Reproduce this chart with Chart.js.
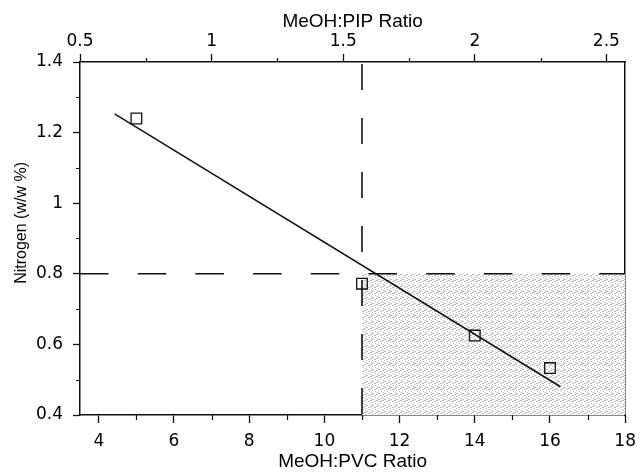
<!DOCTYPE html>
<html>
<head>
<meta charset="utf-8">
<title>Nitrogen vs MeOH ratio</title>
<script src="https://cdn.jsdelivr.net/npm/chart.js@4/dist/chart.umd.min.js"></script>
<style>
  html, body { margin: 0; padding: 0; background: #fff; }
  canvas { display: block; }
</style>
</head>
<body>
<canvas id="nitrogenChart" width="644" height="472"></canvas>
<script>
// measured samples
const pvcRatio = [5, 11, 14, 16];
const nitrogen = [1.24, 0.772, 0.625, 0.533];

// least-squares line, drawn between its two end points
const fitPvc = [4.42, 16.28];
const fitNitrogen = [1.253, 0.48];

// acceptance limits
const nitrogenLimit = 0.8;
const pvcLimit = 11;

// axes
const pvcRange = [3.5, 18];
const nitrogenRange = [0.4, 1.4];
const pvcPerPip = 7;
const pvcTicks = [4, 6, 8, 10, 12, 14, 16, 18];
const pvcMinor = [5, 7, 9, 11, 13, 15, 17];
const pipTicks = [0.5, 1, 1.5, 2, 2.5];
const pipMinor = [0.75, 1.25, 1.75, 2.25];
const nitrogenTicks = [0.4, 0.6, 0.8, 1, 1.2, 1.4];
const nitrogenMinor = [0.5, 0.7, 0.9, 1.1, 1.3];

const INK = "#111";
const tickFont = { family: "'DejaVu Sans'", size: 17 };
const titleFont = { family: "'Liberation Sans', Arial, sans-serif", size: 19 };

function stipple() {
  const c = document.createElement("canvas");
  c.width = 6;
  c.height = 6;
  const g = c.getContext("2d");
  g.fillStyle = "#fff";
  g.fillRect(0, 0, 6, 6);
  g.fillStyle = "#b9b9b9";
  [[0, 0], [3, 1], [1, 3], [4, 4], [2, 5], [5, 2], [5, 4], [0, 3], [3, 5]]
    .forEach(([x, y]) => g.fillRect(x, y, 1, 1));
  return g.createPattern(c, "repeat");
}

function fixedTicks(values) {
  return scale => { scale.ticks = values.map(v => ({ value: v })); };
}

// short ticks between the labelled ones
const minorTicks = {
  id: "minorTicks",
  afterDraw(chart) {
    const { ctx, chartArea: a, scales } = chart;
    ctx.save();
    ctx.strokeStyle = INK;
    ctx.lineWidth = 1.2;
    ctx.beginPath();
    pvcMinor.forEach(v => {
      const px = Math.round(scales.x.getPixelForValue(v)) + 0.5;
      ctx.moveTo(px, a.bottom);
      ctx.lineTo(px, a.bottom + 5);
    });
    pipMinor.forEach(v => {
      const px = Math.round(scales.x2.getPixelForValue(v)) + 0.5;
      ctx.moveTo(px, a.top);
      ctx.lineTo(px, a.top - 4);
    });
    nitrogenMinor.forEach(v => {
      const py = Math.round(scales.y.getPixelForValue(v)) + 0.5;
      ctx.moveTo(a.left, py);
      ctx.lineTo(a.left - 4, py);
    });
    ctx.stroke();
    ctx.restore();
  }
};

function axis(position, ticks, size) {
  return {
    type: "linear",
    position: position,
    border: { display: true, color: INK, width: 1.5 },
    grid: { drawOnChartArea: false, color: INK, tickLength: 8, tickWidth: 1.3 },
    ticks: {
      color: "#000",
      font: tickFont,
      padding: 8,
      autoSkip: false,
      maxRotation: 0,
      callback: v => String(v)
    },
    afterBuildTicks: fixedTicks(ticks),
    afterFit: scale => {
      if (scale.isHorizontal()) scale.height = size;
      else scale.width = size;
    }
  };
}

const xAxis = axis("bottom", pvcTicks, 57);
xAxis.min = pvcRange[0];
xAxis.max = pvcRange[1];
xAxis.title = { display: true, text: "MeOH:PVC Ratio", color: "#000", font: titleFont, padding: { top: 0, bottom: -1 } };

const topAxis = axis("top", pipTicks, 62);
topAxis.min = pvcRange[0] / pvcPerPip;
topAxis.max = pvcRange[1] / pvcPerPip;
topAxis.ticks.padding = 2;
topAxis.title = { display: true, text: "MeOH:PIP Ratio", color: "#000", font: titleFont, padding: { top: 10, bottom: 0 } };

const yAxis = axis("left", nitrogenTicks, 80);
yAxis.min = nitrogenRange[0];
yAxis.max = nitrogenRange[1];
yAxis.grid.tickLength = 7;
yAxis.ticks.padding = 10;
yAxis.title = {
  display: true,
  text: "       Nitrogen (w/w %)",
  color: "#000",
  font: { family: "'Liberation Sans', Arial, sans-serif", size: 16 },
  padding: { top: 12, bottom: 0 }
};

const rightAxis = {
  type: "linear",
  position: "right",
  min: nitrogenRange[0],
  max: nitrogenRange[1],
  border: { display: true, color: INK, width: 1.5 },
  grid: { drawOnChartArea: false, drawTicks: false },
  ticks: { display: false },
  afterFit: scale => { scale.width = 12; }
};

new Chart(document.getElementById("nitrogenChart"), {
  type: "scatter",
  data: {
    datasets: [
      {
        label: "samples",
        data: pvcRatio.map((x, i) => ({ x: x, y: nitrogen[i] })),
        pointStyle: "rect",
        pointRadius: 7.5,
        pointBorderWidth: 1.3,
        pointBorderColor: INK,
        pointBackgroundColor: "rgba(255,255,255,0)",
        showLine: false,
        order: 0
      },
      {
        label: "fit",
        data: fitPvc.map((x, i) => ({ x: x, y: fitNitrogen[i] })),
        showLine: true,
        borderColor: INK,
        borderWidth: 1.5,
        pointRadius: 0,
        order: 1
      },
      {
        label: "nitrogen limit",
        data: [{ x: pvcRange[0], y: nitrogenLimit }, { x: pvcRange[1], y: nitrogenLimit }],
        showLine: true,
        borderColor: INK,
        borderWidth: 1.6,
        borderDash: [28.5, 29.2],
        pointRadius: 0,
        order: 2
      },
      {
        label: "PVC limit",
        data: [{ x: pvcLimit, y: nitrogenRange[1] }, { x: pvcLimit, y: nitrogenRange[0] }],
        showLine: true,
        borderColor: INK,
        borderWidth: 1.6,
        borderDash: [26, 28],
        borderDashOffset: -2,
        pointRadius: 0,
        order: 3
      },
      {
        label: "acceptable region",
        data: [{ x: pvcLimit, y: nitrogenLimit }, { x: pvcRange[1], y: nitrogenLimit }],
        showLine: true,
        borderWidth: 0,
        borderColor: "rgba(0,0,0,0)",
        backgroundColor: stipple(),
        fill: "start",
        pointRadius: 0,
        order: 4
      }
    ]
  },
  options: {
    responsive: false,
    animation: false,
    devicePixelRatio: 1,
    layout: { padding: 0 },
    plugins: {
      legend: { display: false },
      tooltip: { enabled: false }
    },
    scales: {
      x: xAxis,
      x2: topAxis,
      y: yAxis,
      y2: rightAxis
    }
  },
  plugins: [minorTicks]
});
</script>
</body>
</html>
